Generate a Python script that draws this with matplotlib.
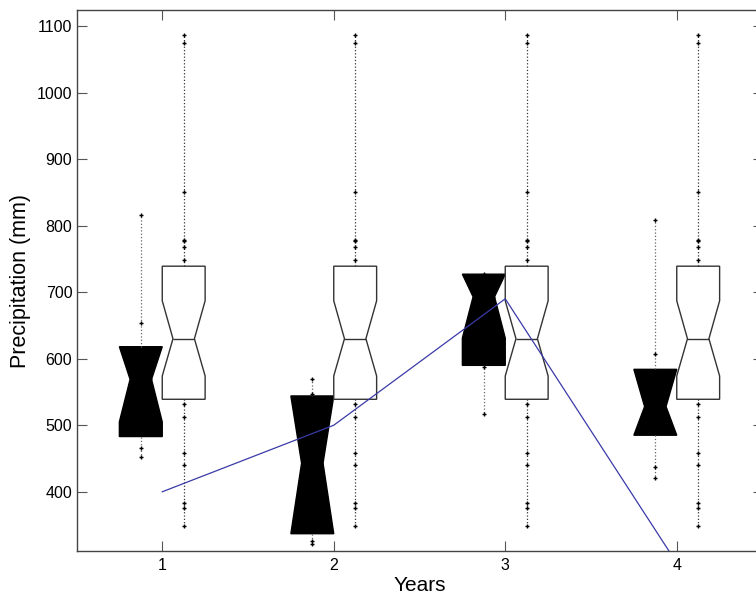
import matplotlib
matplotlib.use("Agg")
import matplotlib.pyplot as plt

plt.rcParams['font.family'] = ['Liberation Sans', 'DejaVu Sans']

years = [1, 2, 3, 4]

# black (observed) boxes, one value per year
obs_q1 = [483, 337, 590, 485]
obs_med = [569, 443, 693, 528]
obs_q3 = [618, 544, 727, 584]
obs_cilo = [505, 337, 631, 485]
obs_cihi = [618, 544, 727, 584]
obs_whislo = [452, 320, 517, 421]
obs_whishi = [816, 569, 728, 809]
obs_points = [
    [816, 654, 466, 453],
    [569, 547, 326, 321],
    [728, 587, 517],
    [809, 607, 437, 421],
]

# white (reference) box, same for each year
ref_stats = dict(q1=539, med=630, q3=739, cilo=574, cihi=687,
                 whislo=348, whishi=1087)
ref_points = [1087, 1075, 851, 779, 777, 768, 749,
              532, 512, 458, 440, 383, 376, 348]

# blue line
line_values = [400, 500, 690, 293]

fig = plt.figure(figsize=(7.56, 5.97), dpi=100)
ax = fig.add_axes([76.5 / 756, 1 - 551 / 597, 686 / 756, 541 / 597])

obs = []
for i in range(len(years)):
    obs.append(dict(q1=obs_q1[i], med=obs_med[i], q3=obs_q3[i],
                    cilo=obs_cilo[i], cihi=obs_cihi[i],
                    whislo=obs_whislo[i], whishi=obs_whishi[i],
                    fliers=obs_points[i]))
ref = [dict(ref_stats, fliers=ref_points) for _ in years]

flier = dict(marker='+', markersize=3, markeredgecolor='black',
             markeredgewidth=1.0, linestyle='none')

ax.bxp(obs, positions=[y - 0.125 for y in years], widths=0.25,
       shownotches=True, patch_artist=True, showcaps=False,
       boxprops=dict(facecolor='black', edgecolor='black', linewidth=1),
       medianprops=dict(color='black', linewidth=1),
       whiskerprops=dict(color='#666666', linestyle=':', linewidth=0.9),
       flierprops=flier, manage_ticks=False)

ax.bxp(ref, positions=[y + 0.125 for y in years], widths=0.25,
       shownotches=True, patch_artist=True, showcaps=False,
       boxprops=dict(facecolor='white', edgecolor='#333333', linewidth=1),
       medianprops=dict(color='#333333', linewidth=1),
       whiskerprops=dict(color='#333333', linestyle=':', linewidth=0.9),
       flierprops=flier, manage_ticks=False)

ax.plot(years, line_values, color='#3a3aa8', linewidth=0.9, zorder=5)

ax.set_xlim(0.5, 4.5)
ax.set_ylim(311, 1124)
ax.set_xticks(years)
ax.set_yticks(range(400, 1101, 100))
ax.tick_params(direction='in', length=7, top=True, right=True,
               labelsize=11.5, color='#555555')
ax.tick_params(axis='y', pad=3)
ax.tick_params(axis='x', pad=5)
for s in ax.spines.values():
    s.set_color('#444444')
    s.set_linewidth(1)

ax.set_xlabel('Years', fontsize=15, labelpad=2.5)
ax.set_ylabel('Precipitation (mm)', fontsize=15.5, labelpad=4)

fig.savefig('out.png', dpi=100)
